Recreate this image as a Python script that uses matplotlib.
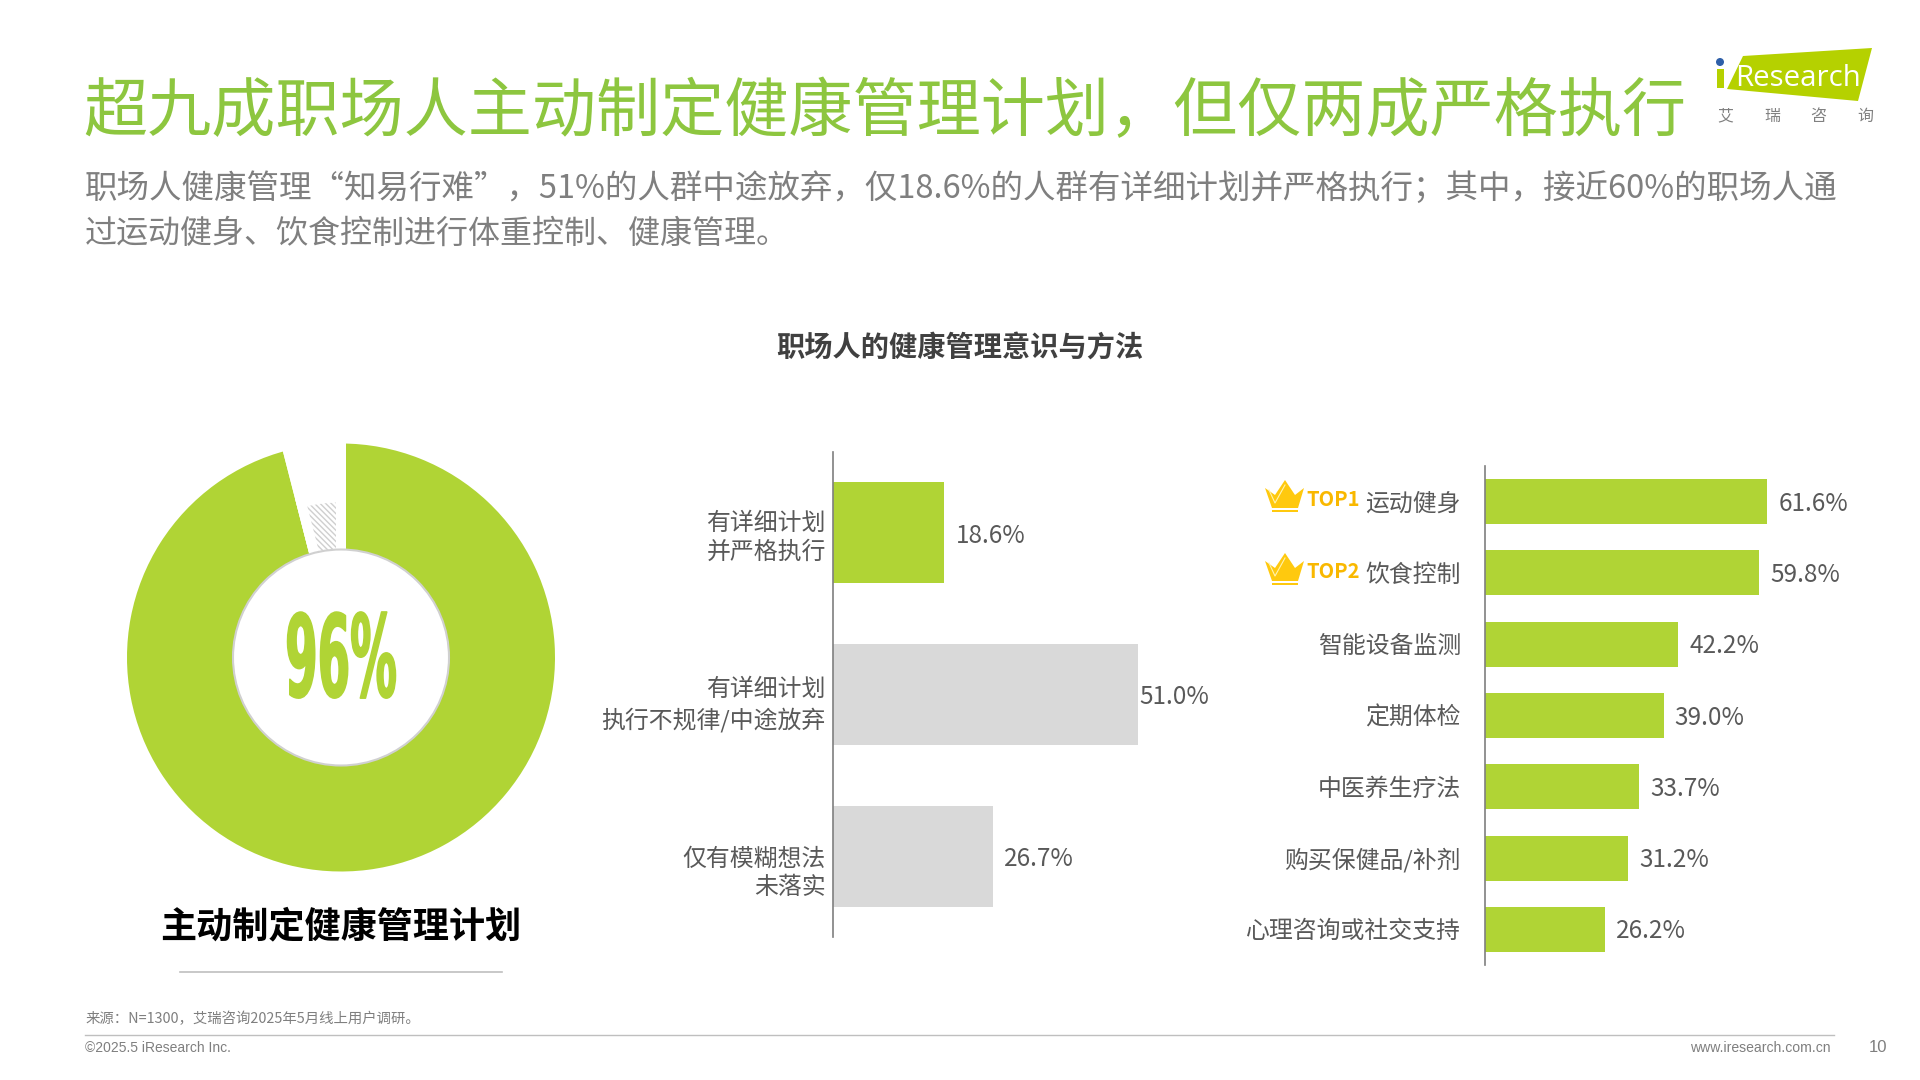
import numpy as np
import matplotlib
matplotlib.use("Agg")
import matplotlib.pyplot as plt
import matplotlib.patheffects as pe
from matplotlib.patches import Polygon, Circle, Wedge, Rectangle
from matplotlib.transforms import Affine2D, ScaledTranslation

plt.rcParams['font.family'] = ['Noto Sans CJK SC', 'DejaVu Sans']

####DATA######
TITLE = "超九成职场人主动制定健康管理计划，但仅两成严格执行"
SUB1 = "职场人健康管理“知易行难”，51%的人群中途放弃，仅18.6%的人群有详细计划并严格执行；其中，接近60%的职场人通"
SUB2 = "过运动健身、饮食控制进行体重控制、健康管理。"
CHART_TITLE = "职场人的健康管理意识与方法"
SOURCE = "来源：N=1300，艾瑞咨询2025年5月线上用户调研。"

donut_values = [96, 4]
donut_label = "96%"
donut_caption = "主动制定健康管理计划"

plan_labels = ["有详细计划\n并严格执行", "有详细计划\n执行不规律/中途放弃", "仅有模糊想法\n未落实"]
plan_values = [18.6, 51.0, 26.7]

method_labels = ["运动健身", "饮食控制", "智能设备监测", "定期体检", "中医养生疗法", "购买保健品/补剂", "心理咨询或社交支持"]
method_values = [61.6, 59.8, 42.2, 39.0, 33.7, 31.2, 26.2]
top_tags = ["TOP1", "TOP2"]
#--------------------

GREEN = "#B0D435"
TITLE_GREEN = "#8DC63F"
GOLD = "#FFC90E"
TEXT_GRAY = "#595959"
W, H = 1920, 1080
PX = 72 / 100  # points per pixel at dpi 100


# squeezes glyph outlines sideways around a pixel x position, with a thin outline for weight
class Squeeze(pe.AbstractPathEffect):
    def __init__(self, sx, cx, stroke, color):
        super().__init__()
        self.sx = sx
        self.cx = cx
        self.stroke = stroke
        self.color = color

    def draw_path(self, renderer, gc, tpath, affine, rgbFace=None):
        t = affine + Affine2D().translate(-self.cx, 0).scale(self.sx, 1).translate(self.cx, 0)
        gc0 = renderer.new_gc()
        gc0.copy_properties(gc)
        gc0.set_linewidth(self.stroke)
        gc0.set_foreground(self.color)
        renderer.draw_path(gc0, tpath, t, rgbFace)
        gc0.restore()


def axes_px(fig, x0, y0, x1, y1):
    # axes from a pixel box measured from the top left
    return fig.add_axes([x0 / W, 1 - y1 / H, (x1 - x0) / W, (y1 - y0) / H])


fig = plt.figure(figsize=(19.2, 10.8), dpi=100, facecolor="white")

# page layer in pixel coordinates for headings, logo and footer
page = fig.add_axes([0, 0, 1, 1], zorder=5)
page.set_xlim(0, W)
page.set_ylim(H, 0)
page.axis("off")
page.patch.set_alpha(0)

page.text(83, 113, TITLE, color=TITLE_GREEN, fontsize=46.15, va="center", ha="left")
page.text(85, 188, SUB1, color="#7F7F7F", fontsize=23.4, va="center", ha="left")
page.text(85, 234, SUB2, color="#7F7F7F", fontsize=23.05, va="center", ha="left")
page.text(960, 348, CHART_TITLE, color="#404040", fontsize=20.3, fontweight="bold", va="center", ha="center")

# logo
page.add_patch(Polygon([(1743, 56), (1872, 48), (1858, 101), (1727, 89)], fc="#B5D100", ec="none"))
page.add_patch(Rectangle((1717, 69), 7, 19, fc="#B5D100", ec="none"))
page.add_patch(Circle((1720, 62), 4, fc="#2E5FA8", ec="none"))
page.text(1735, 78, "Research", color="white", fontsize=21.2, family="Open Sans", va="center", ha="left")
for cx, ch in zip([1725, 1772, 1818, 1865], "艾瑞咨询"):
    page.text(cx, 116, ch, color="#808080", fontsize=11.5, va="center", ha="center")

# footer
page.text(85, 1019, SOURCE, color="#7F7F7F", fontsize=10.35, va="center", ha="left")
page.plot([85, 1834], [1035, 1035], color="#BFBFBF", lw=1)
page.text(85, 1048, "©2025.5 iResearch Inc.", color="#7F7F7F", fontsize=10, family="Liberation Sans", va="center", ha="left")
page.text(1831, 1048, "www.iresearch.com.cn", color="#7F7F7F", fontsize=10.1, family="Liberation Sans", va="center", ha="right")
page.text(1878, 1047, "10", color="#7F7F7F", fontsize=12, family="Liberation Sans", va="center", ha="center")

# donut -------------------------------------------------
CX, CY, R = 341, 657.5, 219
ax_d = axes_px(fig, CX - R, CY - R, CX + R, CY + R)
ax_d.pie(donut_values, colors=[GREEN, "none"], startangle=90, counterclock=False, radius=1,
         wedgeprops={"edgecolor": "white", "linewidth": 10 * PX})
ring = ax_d.pie(donut_values, colors=["none", "white"], startangle=90, counterclock=False, radius=160 / R)[0]
plt.rcParams['hatch.linewidth'] = 1.6
hatched = ring[1]
hatched.set(edgecolor="#CFCFCF", hatch="\\\\\\\\\\\\", linewidth=0)
ax_d.add_patch(Wedge((0, 0), 160 / R, hatched.theta1, hatched.theta2, fc="none", ec="white", lw=10 * PX))
ax_d.add_patch(Circle((0, 0), 108 / R, fc="white", ec="#D0D0D0", lw=1.5, zorder=5))
ax_d.set_xlim(-1, 1)
ax_d.set_ylim(-1, 1)
ax_d.axis("off")

page.text(341, 665, donut_label, color=GREEN, fontsize=82, fontweight="bold", family="DejaVu Sans",
          va="center", ha="center", path_effects=[Squeeze(0.41, 341, 1.2, GREEN)])
page.text(341, 927, donut_caption, color="black", fontsize=26, fontweight="bold", va="center", ha="center")
page.plot([180, 502], [972, 972], color="#BFBFBF", lw=1.2)

# middle bars -------------------------------------------
ax_m = axes_px(fig, 833, 452, 1250, 937)
ax_m.barh(range(len(plan_values)), plan_values, height=0.625,
          color=[GREEN, "#D9D9D9", "#D9D9D9"], zorder=2)
ax_m.set_xlim(0, (1250 - 833) / 5.98)
ax_m.set_ylim(len(plan_values) - 0.5, -0.5)
ax_m.set_xticks([])
ax_m.set_yticks(range(len(plan_labels)), plan_labels, fontsize=17.2, color=TEXT_GRAY, linespacing=1.32)
ax_m.tick_params(axis="y", length=0, pad=5.2)
# lower labels drift further below their bar centres
for lbl, drop in zip(ax_m.get_yticklabels(), [0, 5, 12]):
    lbl.set_transform(lbl.get_transform() + ScaledTranslation(0, -drop / 100, fig.dpi_scale_trans))
for s in ["top", "right", "bottom"]:
    ax_m.spines[s].set_visible(False)
ax_m.spines["left"].set(color="#7F7F7F", linewidth=1.2)
ax_m.patch.set_alpha(0)
for i, v in enumerate(plan_values):
    # the 51% label sits close to its bar
    gap = 1 if v > 50 else 11.5
    ax_m.annotate(f"{v:.1f}%", (v, i), xytext=(gap * PX, -2), textcoords="offset points",
                  color=TEXT_GRAY, fontsize=17.5, va="center", ha="left")

# right bars --------------------------------------------
ax_r = axes_px(fig, 1485, 466, 1900, 965)
ax_r.barh(range(len(method_values)), method_values, height=0.63, color=GREEN, zorder=2)
ax_r.set_xlim(0, (1900 - 1485) / 4.58)
ax_r.set_ylim(len(method_values) - 0.5, -0.5)
ax_r.set_xticks([])
ax_r.set_yticks(range(len(method_labels)), method_labels, fontsize=17.2, color=TEXT_GRAY)
ax_r.tick_params(axis="y", length=0, pad=17.4)
for s in ["top", "right", "bottom"]:
    ax_r.spines[s].set_visible(False)
ax_r.spines["left"].set(color="#7F7F7F", linewidth=1.2)
ax_r.patch.set_alpha(0)
for i, v in enumerate(method_values):
    ax_r.annotate(f"{v:.1f}%", (v, i), xytext=(11 * PX, -1.5), textcoords="offset points",
                  color=TEXT_GRAY, fontsize=17.5, va="center", ha="left")

# crowns and TOP tags
crown = np.array([(0, 8), (10, 15), (20, 0), (30, 15), (39, 8), (33, 28), (7, 28)], dtype=float)
base = np.array([(7, 30), (33, 30), (33, 31.5), (7, 31.5)], dtype=float)
shine = np.array([(4, 10), (10, 23), (20, 5)], dtype=float)
for dy, tag in zip([0, 73], top_tags):
    off = np.array([1265, 480 + dy])
    page.add_patch(Polygon(crown + off, fc=GOLD, ec="none"))
    page.add_patch(Polygon(base + off, fc=GOLD, ec="none"))
    page.plot(*(shine + off).T, color="#FFF3B0", lw=0.8)
    page.text(1306, 500 + dy * 0.98, tag, color="#F9B800", fontsize=14.5, fontweight="bold", va="center", ha="left")

fig.savefig("out.png", dpi=100)
